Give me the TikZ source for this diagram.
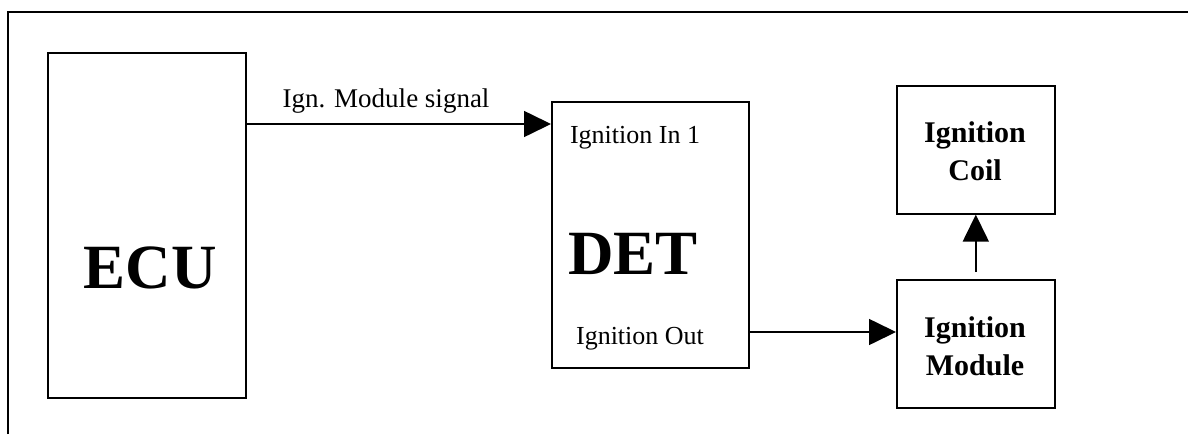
\documentclass[tikz,border=0pt]{standalone}
\usepackage{fontspec}
\setmainfont{Liberation Serif}
\usetikzlibrary{arrows.meta}
\tikzset{
  box/.style={draw, line width=1.6pt, rectangle, inner sep=0pt, anchor=north west},
  conn/.style={line width=1.6pt, -{Triangle[length=27pt,width=26pt]}},
  lbl/.style={inner sep=0pt, anchor=base, font=\fontsize{26}{30}\selectfont},
  big/.style={inner sep=0pt, anchor=base, font=\fontsize{63}{70}\selectfont\bfseries},
  bold2/.style={inner sep=0pt, anchor=base, align=center, font=\fontsize{30}{38}\selectfont\bfseries}
}
\begin{document}
\begin{tikzpicture}[x=1pt,y=-1pt]
\useasboundingbox (0,0) rectangle (1188,434);
\coordinate (fb) at (8,434);
\coordinate (fl) at (8,12);
\coordinate (fr) at (1188,12);
\draw[line width=1.6pt] (fb) -- (fl) -- (fr);
\node[box, minimum width=198pt, minimum height=345pt] (ecu) at (47,52) {};
\node[box, minimum width=197pt, minimum height=266pt] (det) at (551,101) {};
\node[box, minimum width=158pt, minimum height=128pt] (coil) at (896,85) {};
\node[box, minimum width=158pt, minimum height=128pt] (mod) at (896,279) {};
\node[big] (ecut) at (150,288) {ECU};
\node[big] (dett) at (633,274) {DET};
\node[lbl] (inl) at (635,143) {Ignition In 1};
\node[lbl] (outl) at (640,344) {Ignition Out};
\node[lbl, font=\fontsize{27}{30}\selectfont] (sigl) at (386,107) {Ign. Module signal};
\node[bold2] (coilt) at (975,180) {Ignition\\Coil};
\node[bold2] (modt) at (975,375) {Ignition\\Module};
\draw[conn] (ecu.east |- 0,124) -- (det.west |- 0,124);
\draw[conn] (det.east |- 0,332) -- (mod.west |- 0,332);
\draw[conn, shorten <=7pt] (mod.north) -- (coil.south);
\end{tikzpicture}
\end{document}
